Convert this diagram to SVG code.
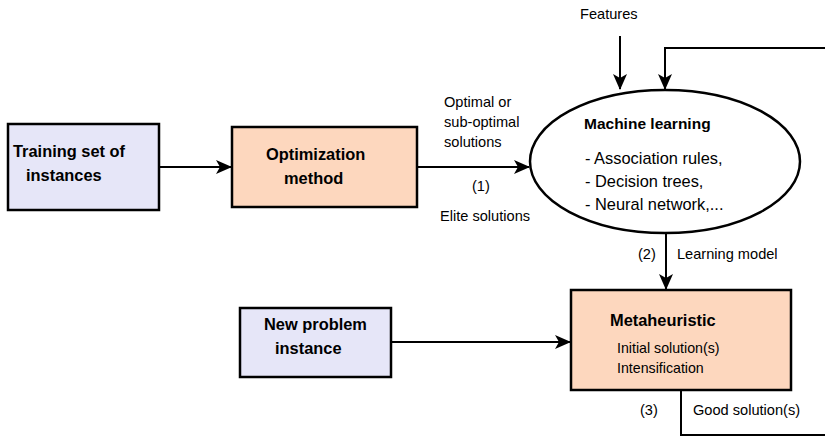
<svg xmlns="http://www.w3.org/2000/svg" width="825" height="437" viewBox="0 0 825 437">
<style>
.box{stroke:#000;stroke-width:2.5}
.blue{fill:#E6E6F8}
.peach{fill:#FDD7BE}
.conn{fill:none;stroke:#000;stroke-width:2}
text{font-family:"Liberation Sans",Arial,sans-serif;fill:#000}
.b{font-weight:bold;font-size:16.4px}
.bm{font-weight:bold;font-size:15.5px}
.m{font-size:16.4px}
.s{font-size:14.6px}
.t{font-size:14.2px}
</style>
<defs>
<marker id="ah" viewBox="0 0 16 14" refX="15" refY="7" markerWidth="16" markerHeight="14" markerUnits="userSpaceOnUse" orient="auto">
<path d="M0,0 L16,7 L0,14 L4,7 Z" fill="#000"/>
</marker>
</defs>
<rect width="825" height="437" fill="#fff"/>
<g id="connectors">
<line class="conn" x1="159" y1="167" x2="231" y2="167" marker-end="url(#ah)"/>
<line class="conn" x1="417" y1="167" x2="529" y2="167" marker-end="url(#ah)"/>
<line class="conn" x1="620" y1="36" x2="620" y2="89" marker-end="url(#ah)"/>
<polyline class="conn" points="825,48 665,48 665,89" marker-end="url(#ah)"/>
<line class="conn" x1="666" y1="233" x2="666" y2="289" marker-end="url(#ah)"/>
<line class="conn" x1="391" y1="342" x2="570" y2="342" marker-end="url(#ah)"/>
<polyline class="conn" points="681,390 681,435 825,435"/>
<text class="s" x="580" y="19">Features</text>
<text class="s" x="444" y="107">Optimal or</text>
<text class="s" x="444" y="127">sub-optimal</text>
<text class="s" x="444" y="147">solutions</text>
<text class="s" x="472" y="191">(1)</text>
<text class="s" x="440" y="221">Elite solutions</text>
<text class="s" x="638" y="259">(2)</text>
<text class="s" x="677" y="259">Learning model</text>
<text class="s" x="640" y="415">(3)</text>
<text class="s" x="693" y="415">Good solution(s)</text>
</g>
<g id="training">
<rect class="box blue" x="8" y="124" width="151" height="86"/>
<text class="b" x="13" y="157">Training set of</text>
<text class="b" x="26" y="181">instances</text>
</g>
<g id="optimization">
<rect class="box peach" x="232" y="127" width="185" height="80"/>
<text class="b" x="266" y="160">Optimization</text>
<text class="b" x="284" y="184">method</text>
</g>
<g id="ml">
<ellipse cx="665" cy="161.5" rx="135" ry="71.5" fill="#fff" stroke="#000" stroke-width="2.5"/>
<text class="bm" x="584" y="129">Machine learning</text>
<text class="m" x="585" y="164">- Association rules,</text>
<text class="m" x="585" y="187">- Decision trees,</text>
<text class="m" x="585" y="210">- Neural network,...</text>
</g>
<g id="newproblem">
<rect class="box blue" x="240" y="308" width="151" height="69"/>
<text class="b" x="264" y="330">New problem</text>
<text class="b" x="275" y="354">instance</text>
</g>
<g id="metaheuristic">
<rect class="box peach" x="571" y="290" width="220" height="100"/>
<text class="b" x="610" y="326">Metaheuristic</text>
<text class="t" x="617" y="353">Initial solution(s)</text>
<text class="t" x="617" y="373">Intensification</text>
</g>
</svg>
